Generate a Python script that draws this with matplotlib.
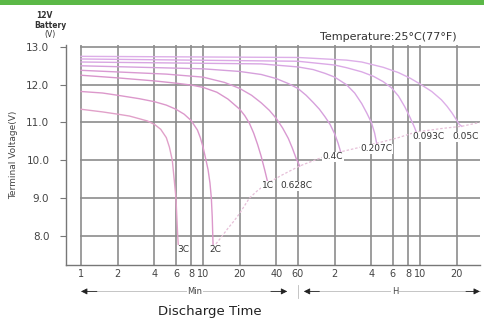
import numpy as np
import matplotlib.pyplot as plt
from matplotlib.transforms import blended_transform_factory

# Discharge curves: time in minutes, terminal voltage in volts
rates = ["3C", "2C", "1C", "0.628C", "0.4C", "0.207C", "0.093C", "0.05C"]

t_3c = [1, 1.5, 2, 2.5, 3, 3.5, 4, 4.5, 5, 5.3, 5.6, 5.8, 6.0, 6.1, 6.2, 6.3]
v_3c = [11.35, 11.28, 11.22, 11.17, 11.1, 11.04, 10.95, 10.82, 10.6, 10.35,
        10.0, 9.5, 9.0, 8.5, 8.0, 7.65]

t_2c = [1, 1.5, 2, 3, 4, 5, 6, 7, 8, 9, 9.5, 10, 10.5, 11, 11.4, 11.7,
        11.9, 12.1]
v_2c = [11.82, 11.78, 11.72, 11.63, 11.55, 11.46, 11.35, 11.22, 11.05,
        10.8, 10.6, 10.35, 10.05, 9.75, 9.4, 9.0, 8.5, 7.7]

t_1c = [1, 2, 4, 6, 8, 10, 13, 16, 20, 22, 24, 26, 28, 30, 32, 34]
v_1c = [12.25, 12.18, 12.1, 12.04, 11.99, 11.93, 11.8, 11.62, 11.35,
        11.18, 10.98, 10.72, 10.42, 10.1, 9.75, 9.4]

t_0628c = [1, 5, 10, 15, 20, 25, 30, 35, 40, 45, 50, 54, 58, 62]
v_0628c = [12.38, 12.28, 12.2, 12.06, 11.9, 11.72, 11.52, 11.32, 11.1,
           10.85, 10.58, 10.32, 10.05, 9.85]

t_04c = [1, 10, 20, 30, 40, 50, 60, 70, 80, 90, 100, 110, 120, 128, 135]
v_04c = [12.5, 12.42, 12.35, 12.27, 12.16, 12.03, 11.9, 11.72, 11.53,
         11.35, 11.15, 10.95, 10.7, 10.45, 10.2]

t_0207c = [1, 30, 60, 80, 100, 120, 150, 175, 200, 220, 240, 255, 265]
v_0207c = [12.6, 12.55, 12.47, 12.4, 12.3, 12.2, 12.0, 11.78, 11.5,
           11.25, 11.0, 10.72, 10.45]

t_0093c = [1, 60, 120, 150, 200, 250, 300, 350, 400, 450, 500, 540, 560]
v_0093c = [12.68, 12.62, 12.52, 12.45, 12.34, 12.22, 12.08, 11.92, 11.7,
           11.42, 11.12, 10.88, 10.75]

t_005c = [1, 60, 150, 200, 300, 400, 500, 600, 750, 900, 1000, 1100,
          1200, 1260, 1320]
v_005c = [12.75, 12.72, 12.65, 12.6, 12.46, 12.32, 12.17, 12.02, 11.82,
          11.6, 11.43, 11.25, 11.06, 10.95, 10.9]

# Final (cut-off) voltage envelope
t_end = [12.1, 14, 16, 18, 20, 24, 28, 34, 45, 62, 90, 125, 180, 265,
         400, 560, 900, 1320, 1850]
v_end = [7.7, 7.95, 8.2, 8.4, 8.6, 9.0, 9.2, 9.4, 9.62, 9.85, 10.05, 10.2,
         10.32, 10.45, 10.6, 10.75, 10.84, 10.9, 11.0]

# Rate label positions (minutes, volts)
label_t = [6.85, 12.5, 34, 58, 116, 266, 700, 1430]
label_v = [7.63, 7.63, 9.32, 9.32, 10.09, 10.3, 10.62, 10.62]

# Axis ticks
grid_t = [1, 2, 4, 6, 8, 10, 20, 40, 60, 120, 240, 360, 480, 600, 1200]
grid_labels = ["1", "2", "4", "6", "8", "10", "20", "40", "60",
               "2", "4", "6", "8", "10", "20"]
volt_ticks = [8.0, 9.0, 10.0, 11.0, 12.0, 13.0]

curves = [(t_3c, v_3c), (t_2c, v_2c), (t_1c, v_1c), (t_0628c, v_0628c),
          (t_04c, v_04c), (t_0207c, v_0207c), (t_0093c, v_0093c),
          (t_005c, v_005c)]

plt.rcParams['font.family'] = ['DejaVu Sans']

fig = plt.figure(figsize=(4.84, 3.2), dpi=100)
fig.patch.set_facecolor('white')

# green header strip
fig.add_artist(plt.Rectangle((0, 1 - 5 / 320), 1, 5 / 320,
                             transform=fig.transFigure, color='#5bb847',
                             lw=0))

ax = fig.add_axes([66 / 484, 1 - 265 / 320, 414 / 484, 220 / 320])
ax.set_xscale('log')
ax.set_xlim(0.753, 1864)
ax.set_ylim(7.23, 13.05)

for s in ['top', 'right']:
    ax.spines[s].set_visible(False)
ax.spines['left'].set_color('#777777')
ax.spines['bottom'].set_color('#777777')
ax.spines['left'].set_linewidth(1.0)
ax.spines['bottom'].set_linewidth(1.0)

grid_c = '#8c8c8c'
for v in volt_ticks:
    ax.plot([1, 1864], [v, v], color=grid_c, lw=1.2, zorder=1)
for t in grid_t:
    ax.plot([t, t], [7.23, 13.05], color=grid_c, lw=1.2, zorder=1)

# discharge curves
curve_cols = ['#e1a1c9', '#dc98cb', '#d996cc', '#d99ad2',
              '#d6a0dc', '#d8a6e2', '#dba9e6', '#ddaee8']
for (t, v), c in zip(curves, curve_cols):
    ax.plot(t, v, color=c, lw=1.0, zorder=2)

ax.plot(t_end, v_end, color='#e6bfd8', lw=0.9, ls=(0, (2, 1.5)), zorder=2)

for name, lt, lv in zip(rates, label_t, label_v):
    ax.text(lt, lv, name, fontsize=6.5, color='#333333', ha='center',
            va='center', zorder=4,
            bbox=dict(facecolor='white', edgecolor='none', pad=0.3))

ax.set_yticks(volt_ticks)
ax.set_yticklabels([f"{v:.1f}" for v in volt_ticks], fontsize=7.5,
                   color='#444444')
ax.tick_params(axis='y', length=4, color='#777777', pad=8)
ax.set_xticks(grid_t)
ax.set_xticklabels(grid_labels, fontsize=7, color='#444444')
ax.xaxis.set_minor_locator(plt.NullLocator())
ax.tick_params(axis='x', length=0, pad=3)

ax.set_ylabel('Terminal Voltage(V)', fontsize=6.5, color='#444444',
              labelpad=6)

# time-unit arrows under the axis
tr = blended_transform_factory(ax.transData, ax.transAxes)
ya = -0.12
arrow_kw = dict(arrowstyle='-|>', color='#222222', lw=0.6,
                mutation_scale=9, shrinkA=0, shrinkB=0)
ax.plot([1.0, 48], [ya, ya], color='#bbbbbb', lw=0.6, transform=tr,
        clip_on=False)
ax.annotate('', xy=(1.0, ya), xytext=(1.35, ya), xycoords=tr,
            textcoords=tr, arrowprops=arrow_kw)
ax.annotate('', xy=(49, ya), xytext=(36, ya), xycoords=tr,
            textcoords=tr, arrowprops=arrow_kw)
ax.text(8.6, ya, 'Min', transform=tr, fontsize=6, color='#444444',
        ha='center', va='center',
        bbox=dict(facecolor='white', edgecolor='none', pad=0.5))
ax.plot([60, 60], [ya - 0.03, ya + 0.03], color='#bbbbbb', lw=0.6,
        transform=tr, clip_on=False)
ax.plot([68, 1850], [ya, ya], color='#bbbbbb', lw=0.6, transform=tr,
        clip_on=False)
ax.annotate('', xy=(67, ya), xytext=(90, ya), xycoords=tr,
            textcoords=tr, arrowprops=arrow_kw)
ax.annotate('', xy=(1860, ya), xytext=(1430, ya), xycoords=tr,
            textcoords=tr, arrowprops=arrow_kw)
ax.text(374, ya, 'H', transform=tr, fontsize=6, color='#444444',
        ha='center', va='center',
        bbox=dict(facecolor='white', edgecolor='none', pad=0.5))

fig.text(210 / 484, 1 - 311 / 320, 'Discharge Time', fontsize=9.5,
         color='#222222', ha='center', va='center')

fig.text(388 / 484, 1 - 37 / 320, 'Temperature:25°C(77°F)', fontsize=8,
         color='#333333', ha='center', va='center')

fig.text(44 / 484, 1 - 15 / 320, '12V', fontsize=5.5, color='#333333',
         ha='center', va='center', fontweight='bold')
fig.text(50 / 484, 1 - 25 / 320, 'Battery', fontsize=5.5, color='#333333',
         ha='center', va='center', fontweight='bold')
fig.text(50 / 484, 1 - 35 / 320, '(V)', fontsize=5.5, color='#333333',
         ha='center', va='center')

fig.savefig('out.png', dpi=100)
